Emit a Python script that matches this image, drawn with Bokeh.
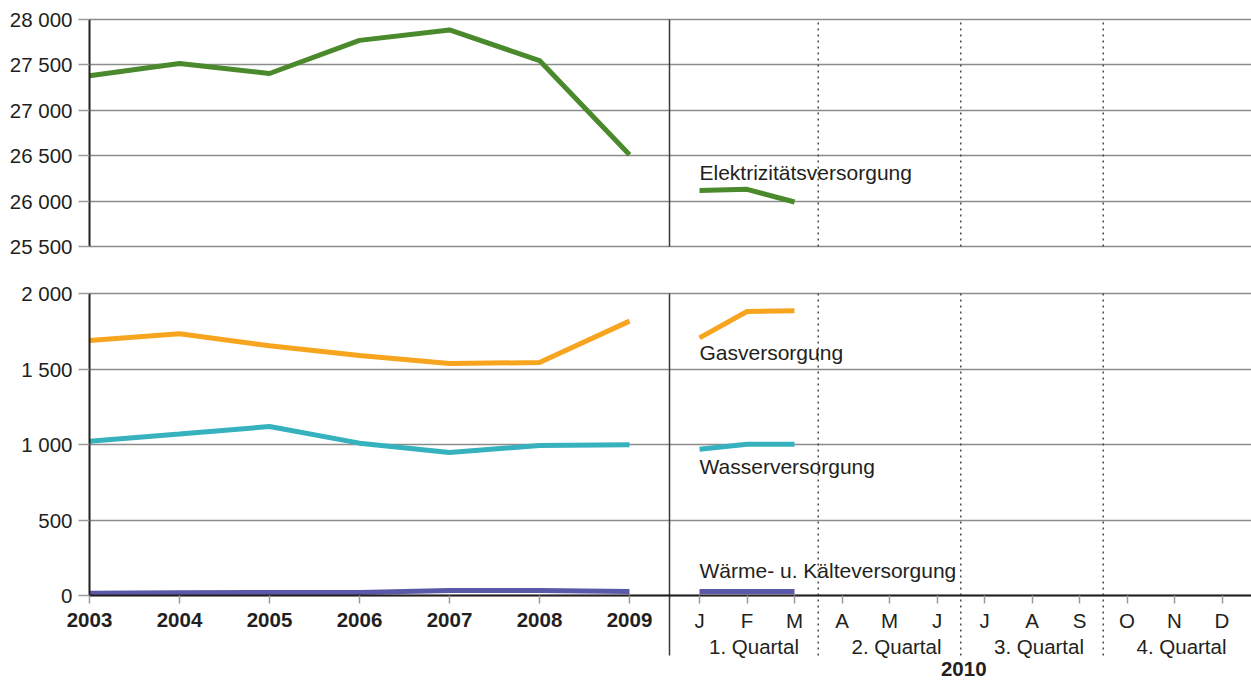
import numpy as np
from bokeh.plotting import figure
from bokeh.layouts import column
from bokeh.models import Range1d, FixedTicker, Grid, BoxAnnotation
from bokeh.core.properties import value
from bokeh.embed import file_html
from bokeh.resources import INLINE

# ---------------- data ----------------
years = ["2003", "2004", "2005", "2006", "2007", "2008", "2009"]
months = ["J", "F", "M", "A", "M", "J", "J", "A", "S", "O", "N", "D"]
quarters = ["1. Quartal", "2. Quartal", "3. Quartal", "4. Quartal"]
year_2010 = ["2010"]

elek_years = [27380, 27515, 27405, 27770, 27885, 27548, 26510]
elek_months = [26117, 26130, 25990]
gas_years = [1689, 1733, 1654, 1589, 1536, 1543, 1817]
gas_months = [1706, 1881, 1885]
wasser_years = [1022, 1070, 1119, 1009, 947, 993, 998]
wasser_months = [969, 1002, 1002]
waerme_years = [15, 18, 20, 20, 33, 33, 27]
waerme_months = [27, 27, 27]

series_names = ["Elektrizitätsversorgung", "Gasversorgung", "Wasserversorgung",
                "Wärme- u. Kälteversorgung"]

top_ticks = [25500, 26000, 26500, 27000, 27500, 28000]
top_tick_labels = ["25 500", "26 000", "26 500", "27 000", "27 500", "28 000"]
bottom_ticks = [0, 500, 1000, 1500, 2000]
bottom_tick_labels = ["0", "500", "1 000", "1 500", "2 000"]

# ---------------- layout / style ----------------
FONT = "Liberation Sans"
TXT = "#231f20"
GREEN = "#4b8a2c"
ORANGE = "#f7a51f"
TEAL = "#35b2be"
PURPLE = "#5a58a8"
GRID = "#8c8c8c"
TICK = "#9a9a9a"
DOT = "#4a4a4a"
FS = "20.5px"
FS_SERIES = "21px"

W = 1251
AXIS_PX = 89                     # page x of the value axis
PX_YEAR = 90.0
X0 = -AXIS_PX / PX_YEAR
X1 = (W - AXIS_PX) / PX_YEAR
x_year = np.arange(len(years), dtype=float)
MONTH_START = 610 / PX_YEAR
MONTH_STEP = 47.5 / PX_YEAR
x_month = MONTH_START + MONTH_STEP * np.arange(len(months))
x_div = 580 / PX_YEAR
x_qsep = MONTH_START + MONTH_STEP * np.array([2.5, 5.5, 8.5])
x_qcenter = MONTH_START + MONTH_STEP * np.array([1.0, 4.0, 7.0, 10.0])
x_ycenter = MONTH_START + MONTH_STEP * 5.5

# top panel: figure 0..266 px, 28000 at 19 px, 25500 at 246 px
TOP_H = 266
TOP_PPU = (246 - 19) / (top_ticks[-1] - top_ticks[0])
TOP_Y1 = top_ticks[-1] + 19 / TOP_PPU
TOP_Y0 = top_ticks[0] - (TOP_H - 246) / TOP_PPU
# bottom panel: figure 266..682 px, 2000 at 293 px, 0 at 595 px
BOT_H = 416
BOT_PPU = (595 - 293) / (bottom_ticks[-1] - bottom_ticks[0])
BOT_Y1 = bottom_ticks[-1] + (293 - 266) / BOT_PPU
BOT_Y0 = -(682 - 595) / BOT_PPU

HAS_CROSS = "cross_bounds" in Grid.properties()


def make_fig(height, y0, y1, ticks, labels):
    p = figure(width=W, height=height, x_range=Range1d(X0, X1), y_range=Range1d(y0, y1),
               output_backend="svg", toolbar_location=None,
               min_border_left=0, min_border_right=0, min_border_top=0, min_border_bottom=0)
    p.outline_line_color = None
    ax = p.yaxis[0]
    ax.fixed_location = 0
    ax.bounds = (ticks[0], ticks[-1])
    ax.ticker = FixedTicker(ticks=ticks)
    ax.major_label_overrides = {t: l for t, l in zip(ticks, labels)}
    ax.axis_line_color = TXT
    ax.axis_line_width = 2
    ax.major_tick_line_color = TICK
    ax.major_tick_line_width = 1.5
    ax.major_tick_out = 11
    ax.major_tick_in = 0
    ax.minor_tick_line_color = None
    ax.major_label_text_font = FONT
    ax.major_label_text_font_size = FS
    ax.major_label_text_color = TXT
    ax.major_label_standoff = 6
    yg = p.ygrid[0]
    yg.ticker = FixedTicker(ticks=ticks)
    yg.grid_line_color = GRID
    yg.grid_line_width = 1.5
    if HAS_CROSS:
        yg.cross_bounds = (0, X1)
    else:
        p.add_layout(BoxAnnotation(right=0, fill_color="white", fill_alpha=1.0,
                                   line_color=None, level="underlay"))
    for g in p.xgrid:
        g.visible = False
    return p


# ---------------- top panel ----------------
pt = make_fig(TOP_H, TOP_Y0, TOP_Y1, top_ticks, top_tick_labels)
pt.xaxis.visible = False

pt.segment(x0=[x_div], y0=[top_ticks[0]], x1=[x_div], y1=[top_ticks[-1]],
           line_color="#3a3a3a", line_width=1.5)
pt.segment(x0=x_qsep, y0=[top_ticks[0]] * 3, x1=x_qsep, y1=[top_ticks[-1]] * 3,
           line_color=DOT, line_width=1.5, line_dash="2 4")

pt.line(x_year, elek_years, line_width=5, line_color=GREEN)
pt.line(x_month[:3], elek_months, line_width=5, line_color=GREEN)
pt.text(x=[x_month[0]], y=[26315], text=[series_names[0]], text_font=value(FONT),
        text_font_size=FS_SERIES, text_color=TXT, text_baseline="alphabetic",
        text_align="left")

# ---------------- bottom panel ----------------
pb = make_fig(BOT_H, BOT_Y0, BOT_Y1, bottom_ticks, bottom_tick_labels)

xa = pb.xaxis[0]
xa.fixed_location = 0
xa.bounds = (0, X1)
xticks = list(x_year) + list(x_month)
xa.ticker = FixedTicker(ticks=xticks)
ov = {float(x): y for x, y in zip(x_year, years)}
ov.update({float(x): "" for x in x_month})
xa.major_label_overrides = ov
xa.axis_line_color = TXT
xa.axis_line_width = 2
xa.major_tick_line_color = TICK
xa.major_tick_line_width = 1.5
xa.major_tick_out = 8
xa.major_tick_in = 0
xa.minor_tick_line_color = None
xa.major_label_text_font = FONT
xa.major_label_text_font_size = FS
xa.major_label_text_font_style = "bold"
xa.major_label_text_color = TXT
xa.major_label_standoff = 9

y_line_end = -(655 - 595) / BOT_PPU
pb.segment(x0=[x_div], y0=[bottom_ticks[-1]], x1=[x_div], y1=[y_line_end],
           line_color="#3a3a3a", line_width=1.5)
pb.segment(x0=x_qsep, y0=[bottom_ticks[-1]] * 3, x1=x_qsep, y1=[y_line_end] * 3,
           line_color=DOT, line_width=1.5, line_dash="2 4")

pb.line(x_year, gas_years, line_width=5, line_color=ORANGE)
pb.line(x_month[:3], gas_months, line_width=5, line_color=ORANGE)
pb.line(x_year, wasser_years, line_width=5, line_color=TEAL)
pb.line(x_month[:3], wasser_months, line_width=5, line_color=TEAL)
pb.line(x_year, waerme_years, line_width=5, line_color=PURPLE)
pb.line(x_month[:3], waerme_months, line_width=5, line_color=PURPLE)

pb.text(x=[x_month[0]] * 3, y=[1609, 854, 166], text=series_names[1:],
        text_font=value(FONT), text_font_size=FS_SERIES, text_color=TXT,
        text_baseline="alphabetic", text_align="left")

pb.text(x=x_month, y=[-(620 - 595) / BOT_PPU] * len(months), text=months,
        text_align="center", text_baseline="middle", text_font=value(FONT),
        text_font_size=FS, text_color=TXT)
pb.text(x=x_qcenter, y=[-(646 - 595) / BOT_PPU] * len(quarters), text=quarters,
        text_align="center", text_baseline="middle", text_font=value(FONT),
        x_offset=7, text_font_size=FS, text_color=TXT)
pb.text(x=[x_ycenter], y=[-(668 - 595) / BOT_PPU], text=year_2010,
        text_align="center", text_baseline="middle", text_font=value(FONT),
        x_offset=3, text_font_size=FS, text_font_style="bold", text_color=TXT)

layout = column(pt, pb, spacing=0)
open("out.html", "w").write(file_html(layout, INLINE))
